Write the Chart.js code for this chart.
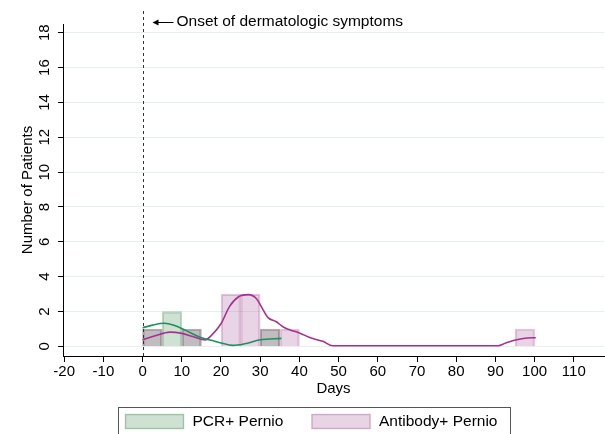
<!doctype html>
<html lang="en">
<head>
    <meta charset="UTF-8">
    <title>Pernio onset histogram</title>
    <script src="https://cdn.jsdelivr.net/npm/chart.js"></script>
    <style>
        html, body { margin: 0; padding: 0; background: #fff; overflow: hidden; }
        .chart-container { position: relative; width: 605px; height: 434px; }
    </style>
</head>
<body>
<div class="chart-container">
    <canvas id="pernioChart" width="605" height="434"></canvas>
</div>

<script>
    // histogram bins (5-day wide), given by bin centre
    const binCenters = [2.5, 7.5, 12.5, 17.5, 22.5, 27.5, 32.5, 37.5, 97.5];
    const pcrCounts = [1, 2, 1, 0, 0, 0, 1, 0, 0];
    const antibodyCounts = [1, 0, 1, 0, 3, 3, 1, 1, 1];

    // smoothed density curves
    const pcrCurveDays = [0, 2.5, 5.5, 8, 11, 15, 17.5, 20, 23, 26, 30, 35.4];
    const pcrCurveVals = [1.07, 1.22, 1.33, 1.22, 0.92, 0.5, 0.35, 0.2, 0.06, 0.15, 0.38, 0.46];
    const abCurveDays = [0, 3, 7, 10, 13, 16, 17.5, 20, 22.2, 24.5, 27, 29, 30.5, 32, 34, 36, 38, 40, 43, 46, 48.5, 90.7, 92.5, 94.6, 97.5, 100.3];
    const abCurveVals = [0.38, 0.6, 0.82, 0.75, 0.55, 0.37, 0.62, 1.3, 2.3, 2.85, 2.97, 2.75, 2.2, 1.65, 1.43, 1.1, 0.92, 0.77, 0.48, 0.29, 0.04, 0.04, 0.18, 0.34, 0.47, 0.5];

    const xTicks = [-20, -10, 0, 10, 20, 30, 40, 50, 60, 70, 80, 90, 100, 110];
    const yTicks = [0, 2, 4, 6, 8, 10, 12, 14, 16, 18];

    const font = "'Liberation Sans', Arial, Helvetica, sans-serif";

    function toPoints(xs, ys) {
        return xs.map((x, i) => ({ x: x, y: ys[i] }));
    }

    // rotated y labels, onset marker, boxed legend
    const extras = {
        id: 'extras',
        afterDraw(chart) {
            const ctx = chart.ctx;
            const xs = chart.scales.x;
            const ys = chart.scales.y;
            const area = chart.chartArea;

            ctx.save();
            ctx.fillStyle = '#000';
            ctx.font = '15px ' + font;
            ctx.textAlign = 'center';
            ctx.textBaseline = 'middle';
            yTicks.forEach(v => {
                ctx.save();
                ctx.translate(45, ys.getPixelForValue(v));
                ctx.rotate(-Math.PI / 2);
                ctx.fillText(String(v), 0, 0);
                ctx.restore();
            });

            // onset line
            const x0 = Math.round(xs.getPixelForValue(0)) + 0.5;
            ctx.strokeStyle = '#333';
            ctx.lineWidth = 1;
            ctx.setLineDash([3, 3]);
            ctx.beginPath();
            ctx.moveTo(x0, 11);
            ctx.lineTo(x0, area.bottom);
            ctx.stroke();
            ctx.setLineDash([]);

            // arrow + label
            ctx.strokeStyle = '#000';
            ctx.beginPath();
            ctx.moveTo(x0 + 10, 22.5);
            ctx.lineTo(x0 + 30, 22.5);
            ctx.stroke();
            ctx.fillStyle = '#000';
            ctx.beginPath();
            ctx.moveTo(x0 + 9, 22.5);
            ctx.lineTo(x0 + 15, 19.5);
            ctx.lineTo(x0 + 15, 25.5);
            ctx.closePath();
            ctx.fill();
            ctx.font = '15.5px ' + font;
            ctx.textAlign = 'left';
            ctx.fillText('Onset of dermatologic symptoms', x0 + 33, 22);

            // legend: framed box with the two histogram series
            ctx.strokeStyle = '#555';
            ctx.strokeRect(118.5, 407.5, 392, 40);
            const legendX = [125, 311.5];
            [2, 3].forEach((di, i) => {
                const ds = chart.data.datasets[di];
                ctx.fillStyle = ds.backgroundColor;
                ctx.fillRect(legendX[i], 414, 59, 15);
                ctx.strokeStyle = ds.borderColor;
                ctx.lineWidth = 1.5;
                ctx.strokeRect(legendX[i] + 0.5, 414.5, 58, 14);
                ctx.fillStyle = '#000';
                ctx.font = '15.5px ' + font;
                ctx.textAlign = 'left';
                ctx.fillText(ds.label, legendX[i] + 67.5, 422);
            });
            ctx.restore();
        }
    };

    const ctx = document.getElementById('pernioChart').getContext('2d');
    const pernioChart = new Chart(ctx, {
        data: {
            datasets: [
                {
                    type: 'line',
                    label: 'PCR+ density',
                    data: toPoints(pcrCurveDays, pcrCurveVals),
                    borderColor: '#17945a',
                    borderWidth: 1.6,
                    pointRadius: 0,
                    cubicInterpolationMode: 'monotone',
                    fill: false,
                    order: 0
                },
                {
                    type: 'line',
                    label: 'Antibody+ density',
                    data: toPoints(abCurveDays, abCurveVals),
                    borderColor: '#a4338f',
                    borderWidth: 1.6,
                    pointRadius: 0,
                    cubicInterpolationMode: 'monotone',
                    fill: false,
                    order: 0
                },
                {
                    type: 'bar',
                    label: 'PCR+ Pernio',
                    data: toPoints(binCenters, pcrCounts),
                    backgroundColor: 'rgba(30, 120, 50, 0.22)',
                    borderColor: 'rgba(30, 120, 50, 0.28)',
                    borderWidth: 1.5,
                    grouped: false,
                    barPercentage: 1,
                    categoryPercentage: 1,
                    order: 2
                },
                {
                    type: 'bar',
                    label: 'Antibody+ Pernio',
                    data: toPoints(binCenters, antibodyCounts),
                    backgroundColor: 'rgba(140, 40, 120, 0.2)',
                    borderColor: 'rgba(140, 40, 120, 0.26)',
                    borderWidth: 1.5,
                    grouped: false,
                    barPercentage: 1,
                    categoryPercentage: 1,
                    order: 1
                }
            ]
        },
        options: {
            responsive: false,
            animation: false,
            layout: { padding: { top: 24, right: 1, left: 0, bottom: 29 } },
            scales: {
                x: {
                    type: 'linear',
                    offset: false,
                    min: -20.3,
                    max: 117.7,
                    afterBuildTicks: s => { s.ticks = xTicks.map(v => ({ value: v })); },
                    afterFit: s => { s.height = 49; },
                    grid: { offset: false, drawOnChartArea: false, drawTicks: true, tickLength: 6, tickColor: '#000' },
                    border: { color: '#000', width: 1 },
                    ticks: { color: '#000', font: { family: font, size: 15 }, padding: 1, maxRotation: 0, autoSkip: false },
                    title: { display: true, text: 'Days', color: '#000', font: { family: font, size: 15 }, padding: { top: 0, bottom: 7 } }
                },
                y: {
                    type: 'linear',
                    min: -0.55,
                    max: 18.5,
                    afterBuildTicks: s => { s.ticks = yTicks.map(v => ({ value: v })); },
                    afterFit: s => { s.width = 63; },
                    grid: { color: '#e6f0f3', lineWidth: 1, drawTicks: true, tickLength: 5, tickColor: '#000' },
                    border: { color: '#000', width: 1 },
                    ticks: { display: false },
                    title: { display: true, text: 'Number of Patients', color: '#000', font: { family: font, size: 15 }, padding: { top: 19, bottom: 0 } }
                }
            },
            plugins: {
                legend: { display: false },
                tooltip: { enabled: false }
            }
        },
        plugins: [extras]
    });
</script>
</body>
</html>
